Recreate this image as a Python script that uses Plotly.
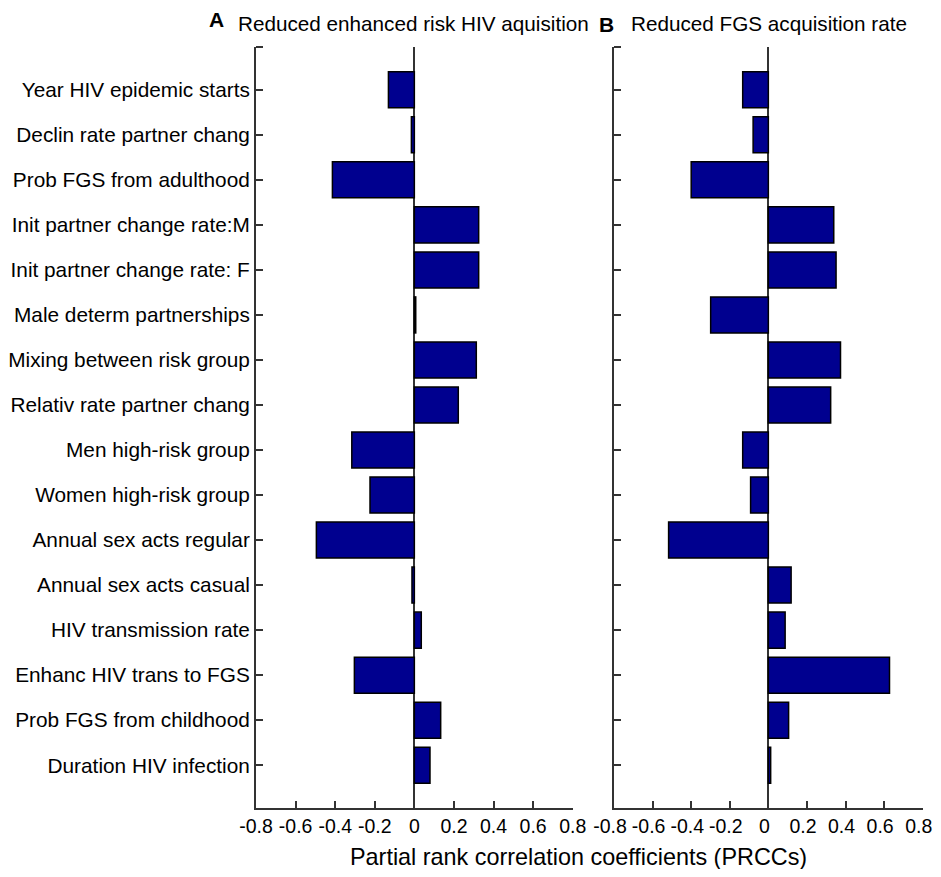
import plotly.graph_objects as go

# ---- data ----
parameters = [
    "Year HIV epidemic starts",
    "Declin rate partner chang",
    "Prob FGS from adulthood",
    "Init partner change rate:M",
    "Init partner change rate: F",
    "Male determ partnerships",
    "Mixing between risk group",
    "Relativ rate partner chang",
    "Men high-risk group",
    "Women high-risk group",
    "Annual sex acts regular",
    "Annual sex acts casual",
    "HIV transmission rate",
    "Enhanc HIV trans to FGS",
    "Prob FGS from childhood",
    "Duration HIV infection",
]
prcc_hiv = [-0.131, -0.015, -0.414, 0.325, 0.325, 0.007, 0.313, 0.222,
            -0.316, -0.224, -0.495, -0.012, 0.035, -0.303, 0.133, 0.079]
prcc_fgs = [-0.133, -0.079, -0.400, 0.339, 0.351, -0.299, 0.374, 0.323,
            -0.133, -0.092, -0.517, 0.118, 0.087, 0.628, 0.105, 0.012]
x_tickvals = [-0.8, -0.6, -0.4, -0.2, 0, 0.2, 0.4, 0.6, 0.8]
x_ticktext = ["-0.8", "-0.6", "-0.4", "-0.2", "0", "0.2", "0.4", "0.6", "0.8"]
title_a = "Reduced enhanced risk HIV aquisition"
title_b = "Reduced FGS acquisition rate"
x_title = "Partial rank correlation coefficients (PRCCs)"

OFF = 8  # page body margin
W, H = 941 - 2 * OFF, 877 - 2 * OFF
FONT = "Liberation Sans, Arial, Helvetica, sans-serif"
AX = "#333333"
BAR = "#00008F"

def px(x):
    return (x - OFF) / W

def py(y):
    return 1 - (y - OFF) / H

fig = go.Figure()
fig.add_trace(go.Bar(x=prcc_hiv, y=parameters, orientation="h", width=0.8,
                     marker=dict(color=BAR, line=dict(color="black", width=1.5)),
                     xaxis="x", yaxis="y", showlegend=False))
fig.add_trace(go.Bar(x=prcc_fgs, y=parameters, orientation="h", width=0.8,
                     marker=dict(color=BAR, line=dict(color="black", width=1.5)),
                     xaxis="x2", yaxis="y2", showlegend=False))

xcommon = dict(range=[-0.8, 0.8], tickvals=x_tickvals, ticktext=x_ticktext,
               showgrid=False, zeroline=True, zerolinecolor=AX, zerolinewidth=1.5,
               showline=True, linecolor=AX, linewidth=2, ticks="inside",
               ticklen=7, tickwidth=2, tickcolor=AX, automargin=False,
               tickfont=dict(family=FONT, size=19.5, color="black"))
ydom = [py(808), py(47)]
ycommon = dict(type="category", categoryorder="array", categoryarray=parameters,
               range=[15.95, -0.95], showgrid=False, zeroline=False,
               showline=True, linecolor=AX, linewidth=2, ticks="inside",
               ticklen=7, tickwidth=2, tickcolor=AX, automargin=False,
               tickfont=dict(family=FONT, size=20.8, color="black"), domain=ydom)

fig.update_layout(
    width=W, height=H, paper_bgcolor="white", plot_bgcolor="white",
    margin=dict(l=0, r=0, t=0, b=0, autoexpand=False),
    bargap=0.2,
    xaxis=dict(domain=[px(256), px(572.7)], anchor="y", **xcommon),
    xaxis2=dict(domain=[px(614), px(922.7)], anchor="y2", ticklabelshift=-4,
                **xcommon),
    yaxis=dict(anchor="x", **ycommon),
    yaxis2=dict(anchor="x2", showticklabels=False, **ycommon),
)

ann = []
ann.append(dict(text="<b>A</b>", x=px(207), y=py(19), xref="paper", yref="paper",
                xanchor="left", yanchor="middle", showarrow=False,
                font=dict(family=FONT, size=21, color="black")))
ann.append(dict(text=title_a, x=px(236), y=py(24), xref="paper", yref="paper",
                xanchor="left", yanchor="middle", showarrow=False,
                font=dict(family=FONT, size=20.7, color="black")))
ann.append(dict(text="<b>B</b>", x=px(597), y=py(25), xref="paper", yref="paper",
                xanchor="left", yanchor="middle", showarrow=False,
                font=dict(family=FONT, size=21, color="black")))
ann.append(dict(text=title_b, x=px(629), y=py(24), xref="paper", yref="paper",
                xanchor="left", yanchor="middle", showarrow=False,
                font=dict(family=FONT, size=20.7, color="black")))
ann.append(dict(text=x_title, x=px(578), y=py(857), xref="paper", yref="paper",
                xanchor="center", yanchor="middle", showarrow=False,
                font=dict(family=FONT, size=23.4, color="black")))
fig.update_layout(annotations=ann)

# small tick at the top end of each y axis
shapes = []
for x0 in (256, 614):
    shapes.append(dict(type="line", xref="paper", yref="paper",
                       x0=px(x0), x1=px(x0 + 7), y0=py(47), y1=py(47),
                       line=dict(color=AX, width=2)))
fig.update_layout(shapes=shapes)

fig.write_html("out.html")
